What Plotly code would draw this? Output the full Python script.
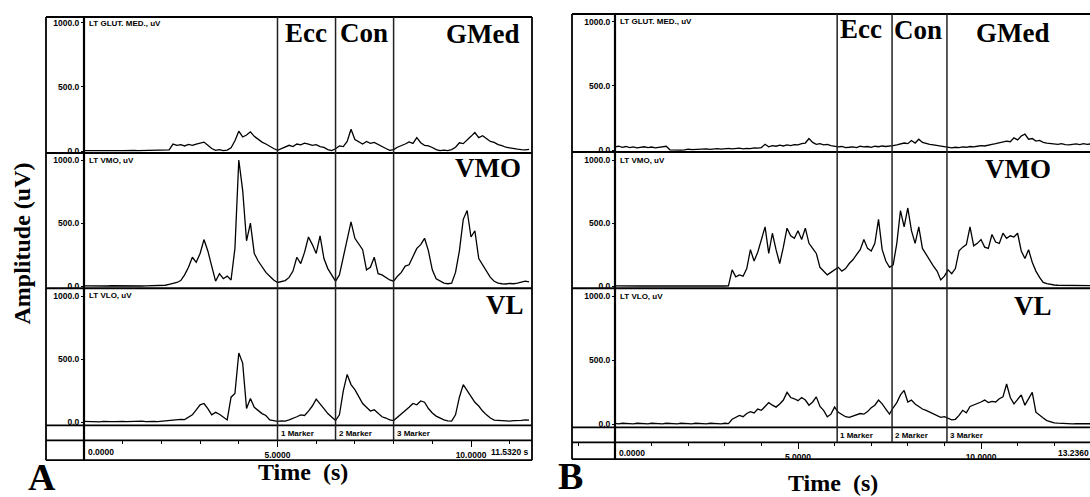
import numpy as np
import plotly.graph_objects as go

W, H = 1090, 497


def fx(px):
    return px / W


def fy(py):
    return 1 - py / H


# ---------------- data (uV, sampled every 0.1 s) ----------------
A_gmed = [3, 5, 2, 4, 3, 6, 4, 3, 5, 4,
          3, 5, 4, 6, 3, 4, 5, 3, 4, 6,
          5, 8, 10, 55, 45, 50, 40, 52, 45, 55,
          60, 70, 45, 20, 5, 12, 4, 8, 25, 80,
          155, 110, 125, 150, 115, 90, 70, 55, 35, 20,
          6, 20, 30, 45, 35, 55, 48, 62, 55, 45,
          50, 35, 28, 12, 4, 18, 40, 35, 75, 170,
          90, 70, 55, 75, 60, 68, 50, 35, 20, 5,
          12, 30, 40, 55, 72, 60, 105, 65, 45, 40,
          28, 12, 4, 8, 4, 12, 30, 65, 58, 90,
          115, 145, 105, 120, 95, 75, 68, 50, 42, 30,
          25, 18, 15, 12, 10, 14]

A_vmo = [3, 2, 4, 3, 2, 3, 2, 4, 3, 2,
         3, 2, 3, 4, 3, 2, 3, 5, 4, 3,
         5, 8, 15, 20, 30, 45, 90, 150, 230, 190,
         260, 370, 280, 160, 40, 100, 60, 80, 50, 300,
         1000, 760, 360, 500, 260, 200, 150, 110, 80, 50,
         30, 40, 45, 70, 120, 230, 180, 270, 390, 330,
         260, 400, 220, 140, 90, 40, 90, 230, 370, 510,
         380, 330, 290, 130, 150, 230, 100, 90, 70, 50,
         40, 80, 110, 160, 170, 230, 300, 330, 380, 280,
         130, 60, 40, 25, 20, 25, 110, 280, 530, 600,
         390, 440, 220, 170, 110, 70, 40, 25, 20, 18,
         22, 20, 25, 30, 40, 35]

A_vl = [8, 6, 9, 7, 5, 8, 10, 7, 6, 9,
        8, 7, 9, 6, 8, 10, 7, 9, 8, 6,
        9, 10, 12, 15, 18, 25, 22, 40, 60, 100,
        140, 150, 110, 60, 80, 65, 40, 20, 200, 230,
        550, 470, 110, 190, 120, 95, 70, 55, 20, 15,
        8, 12, 10, 20, 30, 45, 60, 55, 90, 130,
        185, 150, 110, 70, 40, 15, 60, 250, 380, 300,
        260, 200, 150, 120, 90, 100, 70, 45, 35, 20,
        15, 40, 70, 90, 120, 150, 140, 170, 160, 110,
        75, 50, 35, 20, 12, 10, 60, 200, 300, 250,
        200, 160, 130, 90, 60, 35, 18, 15, 12, 10,
        10, 14, 12, 16, 20, 18]

B_gmed = [25, 30, 22, 28, 20, 25, 18, 22, 26, 20,
          24, 18, 22, 26, 30, 2, 0, 1, 0, 2,
          8, 3, 6, 4, 8, 10, 6, 9, 12, 8,
          10, 14, 9, 12, 15, 10, 14, 12, 18, 15,
          20, 45, 25, 35, 30, 38, 32, 40, 35, 42,
          40, 50, 55, 90, 60, 45, 50, 40, 45, 35,
          32, 25, 28, 20, 22, 25, 20, 30, 25, 28,
          22, 30, 26, 32, 28, 30, 35, 40, 45, 55,
          50, 75, 55, 85, 60, 50, 45, 40, 35, 30,
          28, 25, 18, 22, 20, 25, 22, 28, 25, 30,
          35, 32, 40, 45, 50, 55, 60, 70, 65, 95,
          80, 110, 125, 85, 90, 70, 75, 60, 55, 50,
          48, 45, 50, 42, 40, 45, 48, 42, 50, 45,
          48]

B_vmo = [3, 2, 3, 2, 3, 2, 3, 2, 3, 2,
         2, 3, 2, 3, 2, 3, 2, 3, 2, 3,
         2, 3, 2, 3, 2, 3, 2, 3, 2, 3,
         2, 3, 130, 75, 90, 80, 140, 290, 200, 270,
         380, 470, 260, 420, 290, 180, 310, 460, 400, 380,
         440, 370, 460, 340, 300, 260, 150, 120, 90, 110,
         130, 150, 120, 140, 180, 210, 250, 290, 370, 300,
         280, 340, 530, 290, 200, 150, 170, 340, 600, 470,
         620, 440, 340, 470, 300, 250, 210, 160, 120, 50,
         80, 130, 100, 140, 280, 310, 330, 470, 320, 340,
         370, 310, 300, 410, 350, 340, 420, 380, 400, 390,
         420, 280, 220, 290, 190, 120, 70, 30, 20, 12,
         10, 8, 7, 6, 5, 6, 5, 4, 5, 4,
         5]

B_vl = [8, 5, 9, 6, 8, 5, 9, 6, 8, 5,
        9, 6, 8, 5, 9, 6, 8, 5, 9, 6,
        8, 5, 9, 6, 8, 5, 9, 6, 8, 5,
        9, 6, 40, 55, 70, 60, 85, 100, 90, 120,
        110, 140, 170, 150, 135, 160, 190, 250, 210, 200,
        185, 210, 190, 150, 175, 215, 140, 110, 60, 80,
        135, 95, 80, 60, 55, 65, 70, 85, 80, 100,
        130, 150, 190, 160, 120, 80, 130, 170, 230, 265,
        175, 190, 160, 140, 120, 110, 95, 80, 70, 55,
        60, 50, 35, 40, 70, 110, 90, 140, 150, 160,
        175, 190, 170, 180, 175, 200, 215, 315, 210, 160,
        200, 230, 150, 200, 250, 95, 70, 50, 30, 20,
        12, 10, 8, 6, 7, 5, 6, 5, 6, 5,
        5]

markers_A = [5.0, 6.5, 8.0]
markers_B = [6.07, 7.57, 9.07]
marker_labels = ["1 Marker", "2 Marker", "3 Marker"]
y_ticks = [0, 500, 1000]
y_tick_labels = ["0.0", "500.0", "1000.0"]
x_major = [0, 5, 10]
x_major_labels = ["", "5.0000", "10.0000"]
channels = ["LT GLUT. MED., uV", "LT VMO, uV", "LT VLO, uV"]
muscles = ["GMed", "VMO", "VL"]
end_A, end_B = 11.532, 13.236

sample_dt = 0.1
t_A = np.round(np.arange(len(A_gmed)) * sample_dt, 2)
t_B = np.round(np.arange(len(B_gmed)) * sample_dt, 2)

# ---------------- figure ----------------
SMALL = dict(family="Arial, Liberation Sans, sans-serif", size=8.5, color="black", weight="bold")
SERIF = "Times New Roman, Liberation Serif, serif"

fig = go.Figure()
line_style = dict(color="black", width=1.3)
for ya, vals in [("y", A_gmed), ("y2", A_vmo), ("y3", A_vl)]:
    fig.add_trace(go.Scatter(x=t_A, y=vals, xaxis="x", yaxis=ya, mode="lines",
                             line=line_style, hoverinfo="skip"))
for ya, vals in [("y4", B_gmed), ("y5", B_vmo), ("y6", B_vl)]:
    fig.add_trace(go.Scatter(x=t_B, y=vals, xaxis="x2", yaxis=ya, mode="lines",
                             line=line_style, hoverinfo="skip"))

# panel geometry in pixels
A_left, A_right, A_zero_x, A_pps = 46, 532, 84, 38.7
B_left, B_right, B_zero_x, B_pps = 572, 1090, 615, 36.6
A_rows = [(17, 154, 152, 129), (154, 290, 288, 127), (290, 428, 425, 127)]
B_rows = [(14, 153, 151, 129), (153, 290, 288, 127), (290, 430, 427, 129)]
A_marker_row, A_time_row, A_bottom = 428, 443, 463
B_marker_row, B_time_row, B_bottom = 430, 445, 462

layout = dict(width=W, height=H, margin=dict(l=0, r=0, t=0, b=0),
              paper_bgcolor="white", plot_bgcolor="white", showlegend=False)


def xaxis_cfg(left, right, zero_x, pps, pos_px):
    return dict(domain=[fx(left), fx(right)],
                range=[(left - zero_x) / pps, (right - zero_x) / pps],
                anchor="free", position=fy(pos_px),
                showgrid=False, zeroline=False, showline=False,
                tickmode="array", tickvals=x_major, ticktext=x_major_labels,
                ticks="outside", ticklen=6, tickwidth=1.3, tickcolor="black",
                tickfont=SMALL,
                minor=dict(tickmode="linear", tick0=0, dtick=1, ticks="outside",
                           ticklen=3, tickwidth=1.3, tickcolor="black", showgrid=False),
                fixedrange=True)


layout["xaxis"] = xaxis_cfg(A_left, A_right, A_zero_x, A_pps, A_time_row)
layout["xaxis2"] = xaxis_cfg(B_left, B_right, B_zero_x, B_pps, B_time_row)


def yaxis_cfg(top, bottom, zero_px, ppk, axis_x):
    return dict(domain=[fy(bottom), fy(top)],
                range=[(zero_px - bottom) / ppk * 1000, (zero_px - top) / ppk * 1000],
                anchor="free", position=fx(axis_x),
                showgrid=False, zeroline=False, showline=False,
                tickmode="array", tickvals=y_ticks, ticktext=y_tick_labels,
                ticks="outside", ticklen=3, tickwidth=1.3, tickcolor="black",
                tickfont=SMALL, fixedrange=True)


names = ["yaxis", "yaxis2", "yaxis3", "yaxis4", "yaxis5", "yaxis6"]
for i, r in enumerate(A_rows):
    layout[names[i]] = yaxis_cfg(*r, A_zero_x)
for i, r in enumerate(B_rows):
    layout[names[3 + i]] = yaxis_cfg(*r, B_zero_x)

fig.update_layout(**layout)

# ---------------- frames / lines ----------------
shapes = []


def hline(py, x0, x1, w=1.8):
    shapes.append(dict(type="line", xref="paper", yref="paper", x0=fx(x0), x1=fx(x1),
                       y0=fy(py), y1=fy(py), line=dict(color="black", width=w)))


def vline_px(px, y0, y1, w=1.8):
    shapes.append(dict(type="line", xref="paper", yref="paper", x0=fx(px), x1=fx(px),
                       y0=fy(y0), y1=fy(y1), line=dict(color="black", width=w)))


# panel A frame
hline(A_rows[0][0], A_left, A_right, 2)
for r in A_rows[1:]:
    hline(r[0], A_left, A_right, 2)
hline(A_marker_row, A_left, A_right)
hline(A_time_row, A_left, A_right)
hline(A_bottom, A_left, A_right)
vline_px(A_left, A_rows[0][0], A_bottom)
vline_px(A_right, A_rows[0][0], A_bottom)
# panel B frame
hline(B_rows[0][0], B_left, B_right + 10, 2)
for r in B_rows[1:]:
    hline(r[0], B_left, B_right + 10, 2)
hline(B_marker_row, B_left, B_right + 10)
hline(B_time_row, B_left, B_right + 10)
hline(B_bottom, B_left, B_right + 10)
vline_px(B_left, B_rows[0][0], B_bottom)

# zero-time lines and phase markers (data x)
for xr, top, bot, mk_bottom, mks in [("x", A_rows[0][0], A_bottom, A_time_row, markers_A),
                                     ("x2", B_rows[0][0], B_bottom, B_time_row, markers_B)]:
    shapes.append(dict(type="line", xref=xr, yref="paper", x0=0, x1=0,
                       y0=fy(bot), y1=fy(top), line=dict(color="black", width=2.2)))
    for m in mks:
        shapes.append(dict(type="line", xref=xr, yref="paper", x0=m, x1=m,
                           y0=fy(mk_bottom), y1=fy(top), line=dict(color="#222", width=1.5)))

fig.update_layout(shapes=shapes)

# ---------------- annotations ----------------
ann = []


def txt(text, x, y, size, family=SERIF, xanchor="center", yanchor="middle", xref="paper",
        textangle=0, weight="bold", xshift=0):
    ann.append(dict(text=text, x=x, y=y, xref=xref, yref="paper", showarrow=False,
                    xanchor=xanchor, yanchor=yanchor, textangle=textangle, xshift=xshift,
                    font=dict(family=family, size=size, color="black", weight=weight)))


small_fam = SMALL["family"]
# channel names
for (top, _, _, _), ch in zip(A_rows, channels):
    txt(ch, fx(A_zero_x + 3), fy(top + 7), 8, family=small_fam, xanchor="left")
for (top, _, _, _), ch in zip(B_rows, channels):
    txt(ch, fx(B_zero_x + 3), fy(top + 8), 8, family=small_fam, xanchor="left")

# marker labels
for m, lab in zip(markers_A, marker_labels):
    txt(lab, m, fy(436), 8, family=small_fam, xanchor="left", xref="x", xshift=1)
for m, lab in zip(markers_B, marker_labels):
    txt(lab, m, fy(438), 8, family=small_fam, xanchor="left", xref="x2", xshift=1)

# time labels
txt("0.0000", 0, fy(455), 8.5, family=small_fam, xanchor="left", xref="x", xshift=2)
txt("0.0000", 0, fy(456), 8.5, family=small_fam, xanchor="left", xref="x2", xshift=2)
txt(f"{end_A:.4f} s", fx(A_right - 1), fy(455), 8.5, family=small_fam, xanchor="right")
txt(f"{end_B:.4f} s", fx(B_zero_x + end_B * B_pps - 1), fy(456), 8.5, family=small_fam,
    xanchor="right")

# phase and muscle labels
BIG = 27
txt("Ecc", fx(306), fy(33), BIG)
txt("Con", fx(364), fy(33), BIG)
txt(muscles[0], fx(483), fy(34), BIG)
txt(muscles[1], fx(488), fy(169), BIG)
txt(muscles[2], fx(505), fy(307), BIG)
txt("Ecc", fx(861), fy(29), BIG)
txt("Con", fx(918), fy(30), BIG)
txt(muscles[0], fx(1013), fy(33), BIG)
txt(muscles[1], fx(1018), fy(170), BIG)
txt(muscles[2], fx(1033), fy(308), BIG)

# axis titles and panel letters
txt("Amplitude (uV)", fx(22), fy(245), 24, textangle=-90)
txt("Time  (s)", fx(303), fy(475), 24)
txt("Time  (s)", fx(833), fy(486), 24)
txt("A", fx(42), fy(480), 38)
txt("B", fx(571), fy(479), 38)

fig.update_layout(annotations=ann)

fig.write_html("out.html", config={"displayModeBar": False},
               post_script="document.body.style.margin='0';document.body.style.overflow='hidden';")
